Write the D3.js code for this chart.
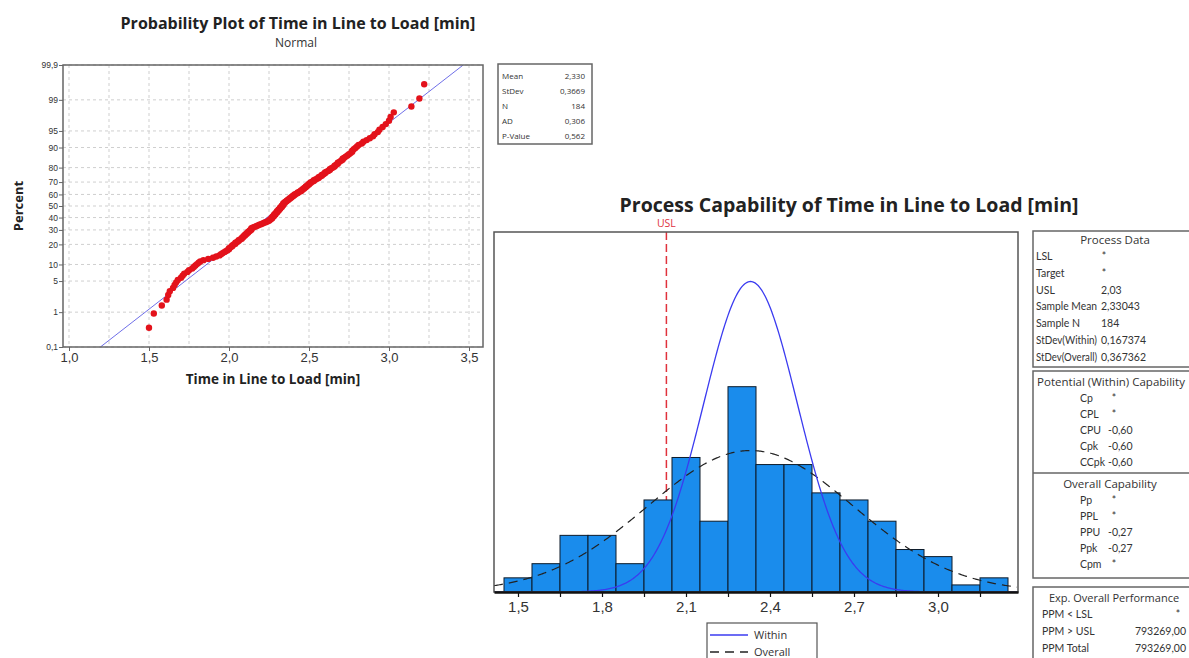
<!DOCTYPE html>
<html>
<head>
<meta charset="utf-8">
<script src="https://d3js.org/d3.v7.min.js"></script>
<style>
  body { margin: 0; background: #fff; }
  svg { display: block; font-family: "Open Sans", "Liberation Sans", sans-serif; }
</style>
</head>
<body>
<svg id="chart" width="1189" height="658"></svg>
<script>
// ---- data ----
// sorted observations (184), estimated from the probability plot
const times = [
  1.50, 1.53,
  1.58, 1.61, 1.62, 1.63,
  1.65, 1.66, 1.67, 1.68, 1.70, 1.71, 1.72, 1.74,
  1.75, 1.77, 1.78, 1.79, 1.80, 1.81, 1.82, 1.84,
  1.87, 1.90, 1.92, 1.94,
  1.95, 1.96, 1.97, 1.98, 1.99, 2.00, 2.00, 2.01, 2.02, 2.02, 2.03, 2.04, 2.04,
  2.05, 2.06, 2.06, 2.07, 2.08, 2.08, 2.09, 2.09, 2.10, 2.10, 2.11, 2.11, 2.12, 2.12, 2.13, 2.13, 2.14, 2.14, 2.14,
  2.15, 2.16, 2.17, 2.18, 2.19, 2.20, 2.21, 2.22, 2.23, 2.24,
  2.25, 2.25, 2.26, 2.26, 2.27, 2.27, 2.27, 2.28, 2.28, 2.28, 2.29, 2.29, 2.29, 2.30, 2.30,
  2.30, 2.31, 2.31, 2.31, 2.32, 2.32, 2.32, 2.33, 2.33, 2.33, 2.34, 2.34, 2.34, 2.34,
  2.35, 2.35, 2.36, 2.36, 2.37, 2.37, 2.38, 2.38, 2.39, 2.39, 2.40, 2.40, 2.41, 2.41, 2.42, 2.43, 2.43, 2.44,
  2.45, 2.45, 2.46, 2.46, 2.47, 2.47, 2.48, 2.48, 2.49, 2.49, 2.50, 2.50, 2.51, 2.51, 2.52, 2.53, 2.53, 2.54,
  2.55, 2.56, 2.56, 2.57, 2.58, 2.58, 2.59, 2.60, 2.60, 2.61, 2.62, 2.63, 2.63, 2.64,
  2.65, 2.66, 2.66, 2.67, 2.68, 2.68, 2.69, 2.70, 2.71, 2.71, 2.72, 2.73, 2.74,
  2.75, 2.76, 2.77, 2.77, 2.78, 2.79, 2.80, 2.81, 2.83, 2.84,
  2.86, 2.88, 2.90, 2.91, 2.93, 2.94,
  2.96, 2.98, 3.00, 3.01, 3.03,
  3.14,
  3.19, 3.22
];
const pctTicks = [0.1, 1, 5, 10, 20, 30, 40, 50, 60, 70, 80, 90, 95, 99, 99.9];
const pctLabels = ["0,1", "1", "5", "10", "20", "30", "40", "50", "60", "70", "80", "90", "95", "99", "99,9"];
const probXTicks = [1.0, 1.5, 2.0, 2.5, 3.0, 3.5];
const probGrid = [1.0, 1.25, 1.5, 1.75, 2.0, 2.25, 2.5, 2.75, 3.0, 3.25, 3.5];
const fitMean = 2.330, fitSd = 0.3669;
const probStats = [["Mean", "2,330"], ["StDev", "0,3669"], ["N", "184"], ["AD", "0,306"], ["P-Value", "0,562"]];

const binMids = [1.5, 1.6, 1.7, 1.8, 1.9, 2.0, 2.1, 2.2, 2.3, 2.4, 2.5, 2.6, 2.7, 2.8, 2.9, 3.0, 3.1, 3.2];
const binCounts = [2, 4, 8, 8, 4, 13, 19, 10, 29, 18, 18, 14, 13, 10, 6, 5, 1, 2];
const binWidth = 0.1;
const histTicks = [1.5, 1.65, 1.8, 1.95, 2.1, 2.25, 2.4, 2.55, 2.7, 2.85, 3.0, 3.15];
const usl = 2.03, sampleMean = 2.33043, sampleN = 184, sdWithin = 0.167374, sdOverall = 0.367362;

const processData = [["LSL", "*"], ["Target", "*"], ["USL", "2,03"], ["Sample Mean", "2,33043"],
  ["Sample N", "184"], ["StDev(Within)", "0,167374"], ["StDev(Overall)", "0,367362"]];
const potential = [["Cp", "*"], ["CPL", "*"], ["CPU", "-0,60"], ["Cpk", "-0,60"], ["CCpk", "-0,60"]];
const overall = [["Pp", "*"], ["PPL", "*"], ["PPU", "-0,27"], ["Ppk", "-0,27"], ["Cpm", "*"]];
const ppm = [["PPM < LSL", "*"], ["PPM > USL", "793269,00"], ["PPM Total", "793269,00"]];

// ---- helpers ----
const loc = d3.formatLocale({ decimal: ",", thousands: ".", grouping: [3], currency: ["", ""] });
const f1 = loc.format(".1f");

// inverse normal cdf (Acklam)
function probit(p) {
  const a = [-39.69683028665376, 220.9460984245205, -275.9285104469687, 138.3577518672690, -30.66479806614716, 2.506628277459239];
  const b = [-54.47609879822406, 161.5858368580409, -155.6989798598866, 66.80131188771875, -13.28068155288572];
  const c = [-0.007784894002430293, -0.3223964580411365, -2.400758277161838, -2.549732539343734, 4.374587099912126, 2.938163982698783];
  const d = [0.007784695709041462, 0.3224671290700398, 2.445134137142996, 3.754408661907416];
  const lo = 0.02425;
  let q, r;
  if (p < lo) {
    q = Math.sqrt(-2 * Math.log(p));
    return (((((c[0] * q + c[1]) * q + c[2]) * q + c[3]) * q + c[4]) * q + c[5]) / ((((d[0] * q + d[1]) * q + d[2]) * q + d[3]) * q + 1);
  }
  if (p > 1 - lo) {
    q = Math.sqrt(-2 * Math.log(1 - p));
    return -(((((c[0] * q + c[1]) * q + c[2]) * q + c[3]) * q + c[4]) * q + c[5]) / ((((d[0] * q + d[1]) * q + d[2]) * q + d[3]) * q + 1);
  }
  q = p - 0.5; r = q * q;
  return (((((a[0] * r + a[1]) * r + a[2]) * r + a[3]) * r + a[4]) * r + a[5]) * q / (((((b[0] * r + b[1]) * r + b[2]) * r + b[3]) * r + b[4]) * r + 1);
}
const normPdf = (x, m, s) => Math.exp(-0.5 * ((x - m) / s) ** 2) / (s * Math.sqrt(2 * Math.PI));

// squeeze a label horizontally when it would run into the next column
function fit(sel, maxW) {
  sel.each(function () {
    if (this.getComputedTextLength() > maxW)
      d3.select(this).attr("textLength", maxW).attr("lengthAdjust", "spacingAndGlyphs");
  });
}

const svg = d3.select("#chart");

// =================== probability plot ===================
const pL = 63, pR = 483, pT = 65, pB = 347;
const px = d3.scaleLinear().domain([0.9625, 3.5875]).range([pL, pR]);
const py = d3.scaleLinear().domain([probit(0.001), probit(0.999)]).range([pB, pT]);
const pg = svg.append("g");

pg.append("text").attr("x", 298).attr("y", 29).attr("text-anchor", "middle")
  .style("font-size", "16px").style("font-weight", "bold").attr("fill", "#222")
  .text("Probability Plot of Time in Line to Load [min]");
pg.append("text").attr("x", 296).attr("y", 47).attr("text-anchor", "middle")
  .style("font-size", "12px").attr("fill", "#333").text("Normal");

pg.append("rect").attr("x", pL).attr("y", pT).attr("width", pR - pL).attr("height", pB - pT).attr("fill", "#fff");

pg.append("g").selectAll("line").data(probGrid).join("line")
  .attr("x1", d => px(d)).attr("x2", d => px(d)).attr("y1", pT).attr("y2", pB)
  .attr("stroke", "#cfcfcf").attr("stroke-dasharray", "3,3");
pg.append("g").selectAll("line").data(pctTicks).join("line")
  .attr("x1", pL).attr("x2", pR).attr("y1", d => py(probit(d / 100))).attr("y2", d => py(probit(d / 100)))
  .attr("stroke", "#cfcfcf").attr("stroke-dasharray", "3,3");

// fitted line
pg.append("line")
  .attr("x1", px(fitMean + probit(0.001) * fitSd)).attr("y1", py(probit(0.001)))
  .attr("x2", px(fitMean + probit(0.999) * fitSd)).attr("y2", py(probit(0.999)))
  .attr("stroke", "#6f6fe8").attr("stroke-width", 1);

// points at median ranks
const nPts = times.length;
pg.append("g").selectAll("circle").data(times).join("circle")
  .attr("cx", d => px(d))
  .attr("cy", (d, i) => py(probit((i + 1 - 0.3) / (nPts + 0.4))))
  .attr("r", 3.2).attr("fill", "#e3121b");

pg.append("rect").attr("x", pL).attr("y", pT).attr("width", pR - pL).attr("height", pB - pT)
  .attr("fill", "none").attr("stroke", "#666").attr("stroke-width", 1.5);

const pyAxis = pg.append("g").attr("transform", `translate(${pL},0)`)
  .call(d3.axisLeft(d3.scaleLinear().domain(py.domain()).range(py.range()))
    .tickValues(pctTicks.map(p => probit(p / 100)))
    .tickFormat((d, i) => pctLabels[i]).tickSize(4).tickSizeOuter(0));
pyAxis.select(".domain").remove();
pyAxis.selectAll("text").style("font-size", "8.5px").attr("fill", "#333").attr("x", -5);
pyAxis.selectAll("line").attr("stroke", "#666");

const pxAxis = pg.append("g").attr("transform", `translate(0,${pB})`)
  .call(d3.axisBottom(px).tickValues(probXTicks).tickFormat(f1).tickSize(4).tickSizeOuter(0));
pxAxis.select(".domain").remove();
pxAxis.selectAll("text").style("font-size", "13px").attr("fill", "#333").attr("y", 6);
pxAxis.selectAll("line").attr("stroke", "#666");

pg.append("text").attr("x", 273).attr("y", 384).attr("text-anchor", "middle")
  .style("font-size", "13.5px").style("font-weight", "bold").attr("fill", "#222")
  .text("Time in Line to Load [min]");
pg.append("text").attr("transform", "translate(23,206) rotate(-90)").attr("text-anchor", "middle")
  .style("font-size", "13px").style("font-weight", "bold").attr("fill", "#222").text("Percent");

// stats box
const sb = pg.append("g");
sb.append("rect").attr("x", 498).attr("y", 64).attr("width", 94).attr("height", 80)
  .attr("fill", "#fff").attr("stroke", "#666").attr("stroke-width", 1.5);
sb.selectAll("text.l").data(probStats).join("text").attr("class", "l")
  .attr("x", 502).attr("y", (d, i) => 79 + i * 15)
  .style("font-size", "8px").attr("fill", "#333").text(d => d[0]);
sb.selectAll("text.r").data(probStats).join("text").attr("class", "r")
  .attr("x", 585).attr("y", (d, i) => 79 + i * 15).attr("text-anchor", "end")
  .style("font-size", "8px").attr("fill", "#333").text(d => d[1]);

// =================== capability histogram ===================
const hL = 494, hR = 1018, hT = 232, hB = 592;
const hx = d3.scaleLinear().domain([1.4143, 3.2857]).range([hL, hR]);
const hy = d3.scaleLinear().domain([0, 50.85]).range([hB, hT]);
const hg = svg.append("g");

hg.append("text").attr("x", 849).attr("y", 212).attr("text-anchor", "middle")
  .style("font-size", "19.5px").style("font-weight", "bold").attr("fill", "#222")
  .text("Process Capability of Time in Line to Load [min]");

hg.append("defs").append("clipPath").attr("id", "hclip")
  .append("rect").attr("x", hL).attr("y", hT).attr("width", hR - hL).attr("height", hB - hT);

// USL reference (behind bars)
hg.append("line").attr("x1", hx(usl)).attr("x2", hx(usl)).attr("y1", hT).attr("y2", hB)
  .attr("stroke", "#e0323c").attr("stroke-width", 1.5).attr("stroke-dasharray", "8,4");
hg.append("text").attr("x", hx(usl)).attr("y", 227).attr("text-anchor", "middle")
  .style("font-size", "10.5px").attr("fill", "#e0323c").text("USL");

hg.append("g").selectAll("rect").data(binMids).join("rect")
  .attr("x", d => hx(d - binWidth / 2))
  .attr("width", d => hx(d + binWidth / 2) - hx(d - binWidth / 2))
  .attr("y", (d, i) => hy(binCounts[i]))
  .attr("height", (d, i) => hB - hy(binCounts[i]))
  .attr("fill", "#1a8cec").attr("stroke", "#0d1b2a").attr("stroke-width", 1);

const xs = d3.range(hx.domain()[0], hx.domain()[1] + 0.0001, 0.004);
const curve = s => d3.line().x(d => hx(d)).y(d => hy(normPdf(d, sampleMean, s) * sampleN * binWidth))(xs);
hg.append("path").attr("d", curve(sdOverall)).attr("clip-path", "url(#hclip)")
  .attr("fill", "none").attr("stroke", "#222").attr("stroke-width", 1.2).attr("stroke-dasharray", "9,6");
hg.append("path").attr("d", curve(sdWithin)).attr("clip-path", "url(#hclip)")
  .attr("fill", "none").attr("stroke", "#3b3bf0").attr("stroke-width", 1.3);

hg.append("rect").attr("x", hL).attr("y", hT).attr("width", hR - hL).attr("height", hB - hT)
  .attr("fill", "none").attr("stroke", "#555").attr("stroke-width", 1.5);

const hxAxis = hg.append("g").attr("transform", `translate(0,${hB})`)
  .call(d3.axisBottom(hx).tickValues(histTicks)
    .tickFormat((d, i) => i % 2 === 0 ? f1(d) : "").tickSize(5).tickSizeOuter(0));
hxAxis.select(".domain").attr("stroke", "#111").attr("stroke-width", 2.5);
hxAxis.selectAll("line").attr("stroke", "#111").attr("stroke-width", 1.2);
hxAxis.selectAll("text").style("font-size", "15px").attr("fill", "#333").attr("y", 9);

// legend
const lg = hg.append("g");
lg.append("rect").attr("x", 707).attr("y", 623).attr("width", 110).attr("height", 50)
  .attr("fill", "#fff").attr("stroke", "#555").attr("stroke-width", 1.2);
lg.append("line").attr("x1", 710).attr("x2", 748).attr("y1", 635).attr("y2", 635)
  .attr("stroke", "#3b3bf0").attr("stroke-width", 1.5);
lg.append("line").attr("x1", 710).attr("x2", 748).attr("y1", 652).attr("y2", 652)
  .attr("stroke", "#222").attr("stroke-width", 1.3).attr("stroke-dasharray", "9,6");
lg.append("text").attr("x", 754).attr("y", 639).style("font-size", "11px").attr("fill", "#333").text("Within");
lg.append("text").attr("x", 754).attr("y", 656).style("font-size", "11px").attr("fill", "#333").text("Overall");

// =================== side tables ===================
const tg = svg.append("g").attr("fill", "#333");
const rowFont = "Lato, 'Open Sans', sans-serif";
const boxX = 1033, boxW = 170, rowH = 16.8;
function box(y, h) {
  tg.append("rect").attr("x", boxX).attr("y", y).attr("width", boxW).attr("height", h)
    .attr("fill", "#fff").attr("stroke", "#666").attr("stroke-width", 1.5);
}
function row(sel) {
  return sel.style("font-family", rowFont).style("font-size", "10.5px");
}

box(231, 136);
tg.append("text").attr("x", 1115).attr("y", 244).attr("text-anchor", "middle")
  .style("font-size", "11.5px").text("Process Data");
tg.selectAll("text.pdl").data(processData).join("text").attr("class", "pdl")
  .attr("x", 1036).attr("y", (d, i) => 260 + i * rowH).text(d => d[0])
  .call(row).call(fit, 61);
tg.selectAll("text.pdv").data(processData).join("text").attr("class", "pdv")
  .attr("x", d => d[1] === "*" ? 1104 : 1101).attr("text-anchor", d => d[1] === "*" ? "middle" : "start")
  .attr("y", (d, i) => 260 + i * rowH).text(d => d[1]).call(row);

box(371, 207);
tg.append("line").attr("x1", boxX).attr("x2", boxX + boxW).attr("y1", 473).attr("y2", 473)
  .attr("stroke", "#666").attr("stroke-width", 1.5);
tg.append("text").attr("x", 1111).attr("y", 386).attr("text-anchor", "middle")
  .style("font-size", "11.5px").text("Potential (Within) Capability");
tg.append("text").attr("x", 1110).attr("y", 488).attr("text-anchor", "middle")
  .style("font-size", "11.5px").text("Overall Capability");
function capRows(rows, cls, y0) {
  tg.selectAll("text." + cls + "l").data(rows).join("text").attr("class", cls + "l")
    .attr("x", 1080).attr("y", (d, i) => y0 + i * 16).text(d => d[0])
    .call(row).call(fit, 25);
  tg.selectAll("text." + cls + "v").data(rows).join("text").attr("class", cls + "v")
    .attr("x", d => d[1] === "*" ? 1114 : 1108).attr("text-anchor", d => d[1] === "*" ? "middle" : "start")
    .attr("y", (d, i) => y0 + i * 16).text(d => d[1]).call(row);
}
capRows(potential, "pw", 402);
capRows(overall, "oc", 504);

box(587, 80);
tg.append("text").attr("x", 1114).attr("y", 602).attr("text-anchor", "middle")
  .style("font-size", "11px").text("Exp. Overall Performance");
tg.selectAll("text.ppl").data(ppm).join("text").attr("class", "ppl")
  .attr("x", 1042).attr("y", (d, i) => 618 + i * 17).text(d => d[0]).call(row);
tg.selectAll("text.ppv").data(ppm).join("text").attr("class", "ppv")
  .attr("x", d => d[1] === "*" ? 1178 : 1186).attr("text-anchor", d => d[1] === "*" ? "middle" : "end")
  .attr("y", (d, i) => 618 + i * 17).text(d => d[1]).call(row);
</script>
</body>
</html>
